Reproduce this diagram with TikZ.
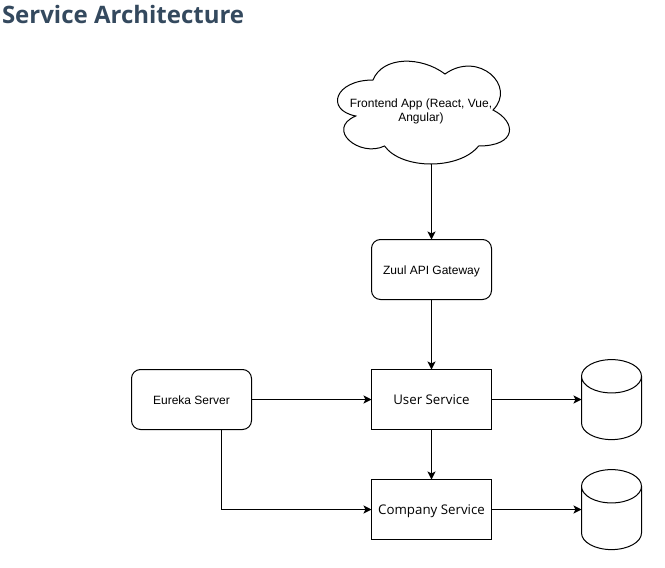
\documentclass[tikz,border=0pt]{standalone}
\usepackage{fontspec}
\setmainfont{Liberation Sans}
\newfontfamily\titlefont{Open Sans}
\newfontfamily\boxfont{Open Sans}
\usetikzlibrary{positioning, arrows.meta, shapes.geometric}
\definecolor{titleblue}{HTML}{34495E}

\begin{document}
\begin{tikzpicture}[
        x=1pt, y=-1pt,
        font=\fontsize{12}{14}\selectfont,
        >={Stealth[length=8pt, width=8pt, inset=2pt]},
        line width=1pt,
        node distance=70pt and 120pt,
        roundblock/.style={
            draw=black,
            rounded corners=9pt,
            minimum width=120pt,
            minimum height=60pt,
            outer sep=0pt,
            text height=11pt,
            text depth=1.5pt,
            align=center
        },
        svcblock/.style={
            draw=black,
            minimum width=120pt,
            minimum height=60pt,
            outer sep=0pt,
            text height=11.5pt,
            text depth=2pt,
            align=center,
            font=\fontsize{13.3}{16}\selectfont\boxfont
        },
        dbcyl/.style={
            draw=black,
            cylinder,
            shape border rotate=90,
            aspect=5,
            minimum width=60pt,
            minimum height=80pt,
            outer sep=0pt,
            yshift=-12.5pt
        },
        arr/.style={->}
    ]

    \useasboundingbox (0,0) rectangle (665,568);

    \node[anchor=west, inner sep=0pt, font=\fontsize{24}{28}\selectfont\titlefont\bfseries, text=titleblue] (title) at (1.5,14) {Service Architecture};

    % cloud outline
    \draw[shift={(325,50)}, x=192pt, y=-120pt]
        (0.25,0.25) .. controls (0.05,0.25) and (0,0.5) .. (0.16,0.55)
        .. controls (0,0.66) and (0.18,0.9) .. (0.31,0.8)
        .. controls (0.4,1) and (0.7,1) .. (0.8,0.8)
        .. controls (1,0.8) and (1,0.6) .. (0.875,0.5)
        .. controls (1,0.3) and (0.8,0) .. (0.625,0.2)
        .. controls (0.5,0.05) and (0.3,0.05) .. (0.25,0.25) -- cycle;
    \node[align=center, inner sep=0pt] (frontend) at (421,111) {Frontend App (React, Vue,\\Angular)};
    \coordinate (cloudbottom) at (431.5,164);

    \node[roundblock] (gateway) at (431.5,269.5) {Zuul API Gateway};
    \node[svcblock, below=of gateway] (user) {User Service};
    \node[svcblock, below=50pt of user] (company) {Company Service};
    \node[roundblock, left=of user] (eureka) {Eureka Server};
    \node[dbcyl, right=90pt of user] (userdb) {};
    \node[dbcyl, right=90pt of company] (companydb) {};

    \draw[arr] (cloudbottom) -- (gateway);
    \draw[arr] (gateway)     -- (user);
    \draw[arr] (user)        -- (company);
    \draw[arr] (eureka)      -- (user);
    \draw[arr] (user)        -- (user -| userdb.west);
    \draw[arr] (company)     -- (company -| companydb.west);
    \draw[arr] ([xshift=30pt]eureka.south) |- (company.west);

\end{tikzpicture}
\end{document}
